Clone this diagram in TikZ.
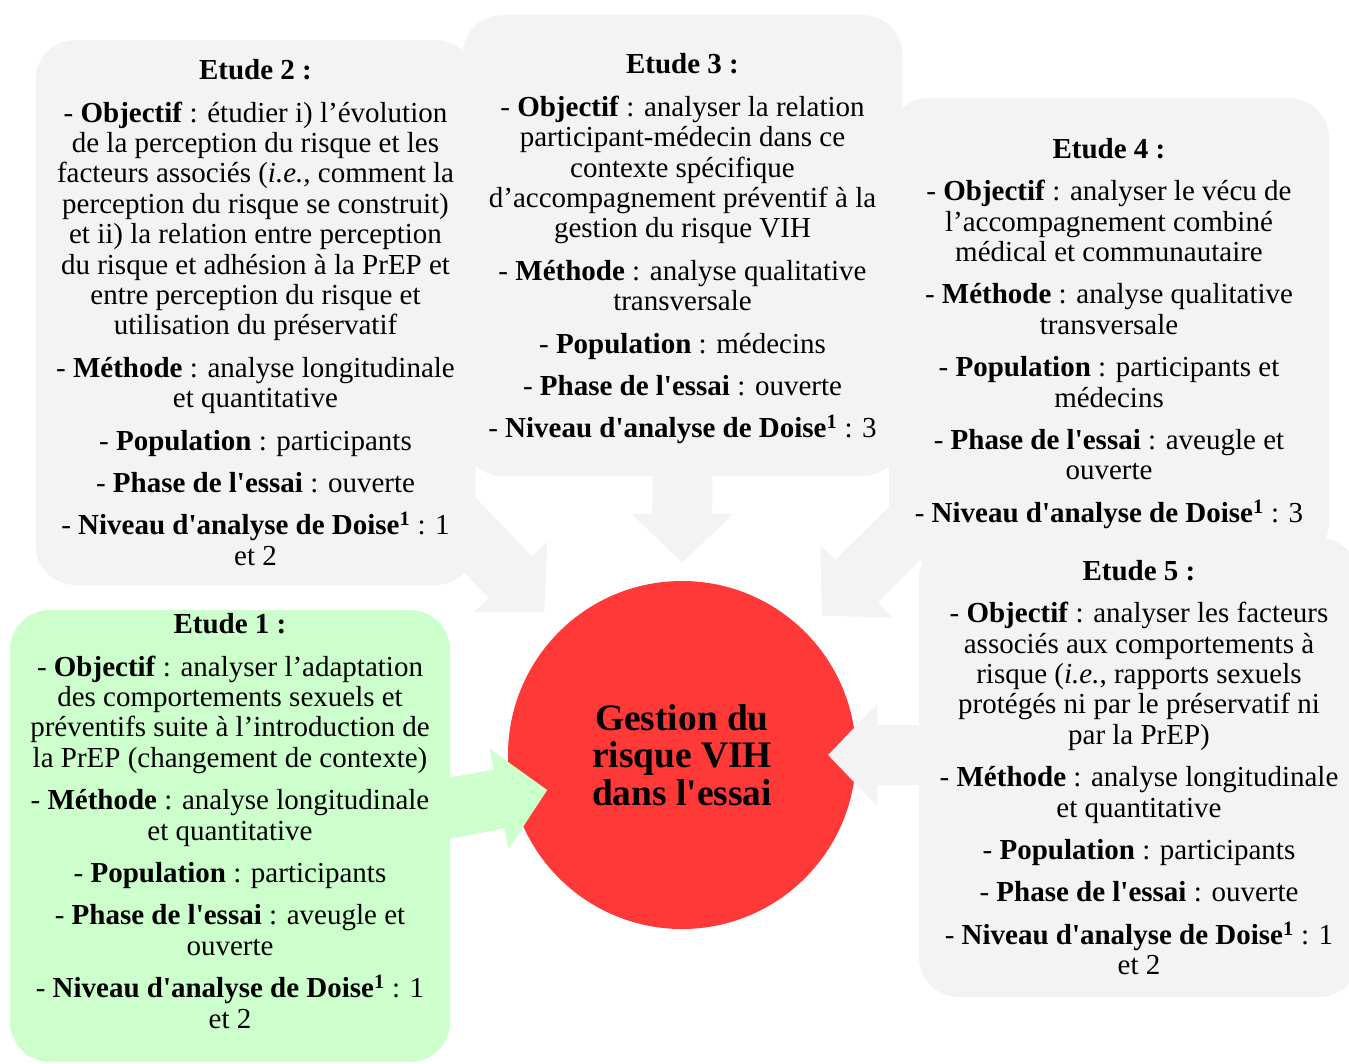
\documentclass[tikz,border=0pt]{standalone}
\usepackage{fontspec}
\setmainfont{Liberation Serif}[Ligatures=TeXOff]
\usetikzlibrary{arrows.meta, calc}
\definecolor{boxgray}{RGB}{243,243,243}
\definecolor{paleGreen}{RGB}{204,255,204}
\definecolor{riskred}{RGB}{255,56,56}
\pgfdeclarelayer{background}
\pgfsetlayers{background,main}

\begin{document}
\begin{tikzpicture}[x=1pt, y=-1pt,
  box/.style={fill=boxgray, rounded corners=40pt, minimum width=440pt, inner sep=0pt,
              align=center, font=\fontsize{29pt}{30.4pt}\selectfont},
  bigarrow/.style={line width=60pt, draw=boxgray, -{Triangle[length=49pt, width=99pt]}},
]
\useasboundingbox (0,0) rectangle (1349,1063);

% Etude 2
\node[box, minimum height=545pt] (e2) at (255.5,312.5) {
\textbf{Etude 2 :}\\[12pt]
- \textbf{Objectif} : étudier i) l’évolution\\
de la perception du risque et les\\
facteurs associés (\textit{i.e.,} comment la\\
perception du risque se construit)\\
et ii) la relation entre perception\\
du risque et adhésion à la PrEP et\\
entre perception du risque et\\
utilisation du préservatif\\[12pt]
- \textbf{Méthode} : analyse longitudinale\\
et quantitative\\[12pt]
- \textbf{Population} : participants\\[12pt]
- \textbf{Phase de l'essai} : ouverte\\[12pt]
- \textbf{Niveau d'analyse de Doise\textsuperscript{1}} : 1\\
et 2};

% Etude 3
\node[box, minimum height=461pt] (e3) at (682.5,245.5) {
\rule{0pt}{27pt}\textbf{Etude 3 :}\\[12pt]
- \textbf{Objectif} : analyser la relation\\
participant-médecin dans ce\\
contexte spécifique\\
d’accompagnement préventif à la\\
gestion du risque VIH\\[12pt]
- \textbf{Méthode} : analyse qualitative\\
transversale\\[12pt]
- \textbf{Population} : médecins\\[12pt]
- \textbf{Phase de l'essai} : ouverte\\[12pt]
- \textbf{Niveau d'analyse de Doise\textsuperscript{1}} : 3};

% Etude 4
\node[box, minimum height=464pt] (e4) at (1109,330) {
\rule{0pt}{27pt}\textbf{Etude 4 :}\\[12pt]
- \textbf{Objectif} : analyser le vécu de\\
l’accompagnement combiné\\
médical et communautaire\\[12pt]
- \textbf{Méthode} : analyse qualitative\\
transversale\\[12pt]
- \textbf{Population} : participants et\\
médecins\\[12pt]
- \textbf{Phase de l'essai} : aveugle et\\
ouverte\\[12pt]
- \textbf{Niveau d'analyse de Doise\textsuperscript{1}} : 3};

% Etude 5
\node[box, minimum height=459pt] (e5) at (1139,767.5) {
\textbf{Etude 5 :}\\[12pt]
- \textbf{Objectif} : analyser les facteurs\\
associés aux comportements à\\
risque (\textit{i.e.}, rapports sexuels\\
protégés ni par le préservatif ni\\
par la PrEP)\\[12pt]
- \textbf{Méthode} : analyse longitudinale\\
et quantitative\\[12pt]
- \textbf{Population} : participants\\[12pt]
- \textbf{Phase de l'essai} : ouverte\\[12pt]
- \textbf{Niveau d'analyse de Doise\textsuperscript{1}} : 1\\
et 2};

% Etude 1 (green)
\node[box, fill=paleGreen, minimum height=452pt] (e1) at (230,836) {
\textbf{Etude 1 :}\\[12pt]
- \textbf{Objectif} : analyser l’adaptation\\
des comportements sexuels et\\
préventifs suite à l’introduction de\\
la PrEP (changement de contexte)\\[12pt]
- \textbf{Méthode} : analyse longitudinale\\
et quantitative\\[12pt]
- \textbf{Population} : participants\\[12pt]
- \textbf{Phase de l'essai} : aveugle et\\
ouverte\\[12pt]
- \textbf{Niveau d'analyse de Doise\textsuperscript{1}} : 1\\
et 2\\};

\begin{pgfonlayer}{background}
% centre
\node[circle, fill=riskred, minimum size=348pt, inner sep=0pt, align=center,
      font=\fontsize{37.4pt}{37.5pt}\selectfont\bfseries] (risk) at (682,755)
      {Gestion du\\risque VIH\\dans l'essai};

% arrows
\draw[bigarrow, shorten >=24pt] (e2.center) -- (risk);
\draw[bigarrow, shorten >=18pt] (e3.center) -- (risk);
\draw[bigarrow, shorten >=23pt] (e4.center) -- (risk);
\draw[bigarrow, shorten >=146pt] (risk -| e5.center) -- (risk.center);
\draw[bigarrow, draw=paleGreen, shorten >=137pt] ($(e1.center)+(0,13)$) -- ($(risk.center)+(0,10)$);
\end{pgfonlayer}
\end{tikzpicture}
\end{document}
